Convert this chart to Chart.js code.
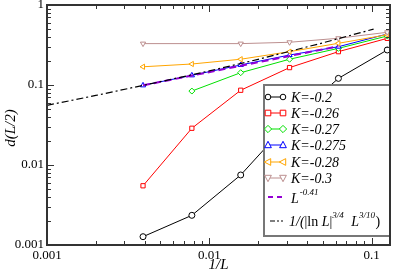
<!DOCTYPE html>
<html>
<head>
<meta charset="utf-8">
<script src="https://cdn.jsdelivr.net/npm/chart.js@4.4.0/dist/chart.umd.min.js"></script>
<style>
  html, body { margin: 0; padding: 0; background: #fff; }
</style>
</head>
<body>
<canvas id="chart" width="395" height="272"></canvas>
<script>
// x = 1/L
const sizes = [1/256, 1/128, 1/64, 1/32, 1/16, 1/8];
const sizesNo128 = [1/256, 1/64, 1/32, 1/16, 1/8];

// d(L/2) for each K
const k020 = [0.00127, 0.00235, 0.0075, 0.035, 0.121, 0.274];
const k026 = [0.0055, 0.0288, 0.086, 0.165, 0.261, 0.383];
const k027 = [null, 0.084, 0.1425, 0.21, 0.287, 0.41];
const k0275 = [0.099, 0.132, 0.178, 0.237, 0.301, 0.434];
const k028 = [0.169, 0.183, 0.21, 0.261, 0.332, 0.425];
const k030 = [0.329, 0.329, 0.342, 0.384, 0.456];

// power law guide L^-0.41
const powX = [1/256, 1/16];
const powY = [0.099, 0.305];

// 1/(|ln L|^{3/4} L^{3/10})
const logX = [0.001, 0.002, 0.005, 0.01, 0.02, 0.05, 0.103];
const logY = [0.0557, 0.074, 0.110, 0.150, 0.209, 0.336, 0.50];

const decadeLabels = { "-3": "0.001", "-2": "0.01", "-1": "0.1", "0": "1" };

const SERIF = "'Liberation Serif', 'DejaVu Serif', serif";

function pts(xs, ys) {
  return xs.map((x, i) => ({ x, y: ys[i] })).filter(p => p.y != null);
}

function series(label, xs, ys, color, style, rot, order) {
  return {
    label,
    data: pts(xs, ys),
    borderColor: color,
    backgroundColor: "#fff",
    borderWidth: 1,
    pointStyle: style,
    rotation: rot,
    pointRadius: 3,
    pointBorderWidth: 1,
    pointBackgroundColor: "#fff",
    pointBorderColor: color,
    tension: 0,
    order
  };
}

const datasets = [
  {
    label: "dashdot",
    data: pts(logX, logY),
    borderColor: "#000",
    borderWidth: 1.2,
    borderDash: [7, 3, 2, 3],
    pointRadius: 0,
    order: 0
  },
  {
    label: "pow",
    data: pts(powX, powY),
    borderColor: "#9400d3",
    borderWidth: 2,
    borderDash: [7, 4],
    pointRadius: 0,
    order: 1
  },
  series("K=-0.2", sizes, k020, "#000000", "circle", 0, 8),
  series("K=-0.26", sizes, k026, "#ff0000", "rect", 0, 7),
  series("K=-0.27", sizes, k027, "#00e000", "rectRot", 0, 6),
  series("K=-0.275", sizes, k0275, "#0000ff", "triangle", 0, 5),
  series("K=-0.28", sizes, k028, "#ffa500", "triangle", -90, 4),
  series("K=-0.3", sizesNo128, k030, "#bc8f8f", "triangle", 180, 3)
];

// legend rows: [label, color, pointStyle, rotation, kind]
const legendRows = [
  ["K=-0.2", "#000000", "circle", 0, "mark"],
  ["K=-0.26", "#ff0000", "rect", 0, "mark"],
  ["K=-0.27", "#00e000", "rectRot", 0, "mark"],
  ["K=-0.275", "#0000ff", "triangle", 0, "mark"],
  ["K=-0.28", "#ffa500", "triangle", -90, "mark"],
  ["K=-0.3", "#bc8f8f", "triangle", 180, "mark"],
  ["L", "#9400d3", null, 0, "pow"],
  ["1/(", "#000000", null, 0, "dashdot"]
];
const legendY = [97, 113, 129, 145, 162, 178, 197, 221];

function drawMarker(ctx, style, rot, x, y, r, color) {
  ctx.save();
  ctx.translate(x, y);
  ctx.rotate(rot * Math.PI / 180);
  ctx.beginPath();
  if (style === "circle") {
    ctx.arc(0, 0, r, 0, Math.PI * 2);
  } else if (style === "rect") {
    ctx.rect(-r, -r, 2 * r, 2 * r);
  } else if (style === "rectRot") {
    const d = r * 1.3;
    ctx.moveTo(0, -d); ctx.lineTo(d, 0); ctx.lineTo(0, d); ctx.lineTo(-d, 0); ctx.closePath();
  } else {
    const h = r * 1.2;
    ctx.moveTo(0, -h * 1.1); ctx.lineTo(h, h * 0.8); ctx.lineTo(-h, h * 0.8); ctx.closePath();
  }
  ctx.fillStyle = "#fff";
  ctx.fill();
  ctx.lineWidth = 1;
  ctx.strokeStyle = color;
  ctx.stroke();
  ctx.restore();
}

// frame, inward ticks, titles and legend box
const framePlugin = {
  id: "frame",
  afterDraw(chart) {
    const ctx = chart.ctx;
    const a = chart.chartArea;
    const xs = chart.scales.x;
    const ys = chart.scales.y;
    ctx.save();

    // ticks on all four sides
    ctx.strokeStyle = "#333";
    ctx.lineWidth = 1;
    for (let e = -3; e <= -1; e++) {
      for (let m = 1; m <= 9; m++) {
        const v = m * Math.pow(10, e);
        if (v > xs.max * 1.0001) continue;
        const px = Math.round(xs.getPixelForValue(v)) + 0.5;
        const len = m === 1 ? 7 : 4;
        ctx.beginPath();
        ctx.moveTo(px, a.bottom); ctx.lineTo(px, a.bottom - len);
        ctx.moveTo(px, a.top); ctx.lineTo(px, a.top + len);
        ctx.stroke();
      }
    }
    for (let e = -3; e <= 0; e++) {
      for (let m = 1; m <= 9; m++) {
        const v = m * Math.pow(10, e);
        if (v > ys.max * 1.0001) continue;
        const py = Math.round(ys.getPixelForValue(v)) + 0.5;
        const len = m === 1 ? 7 : 4;
        ctx.beginPath();
        ctx.moveTo(a.left, py); ctx.lineTo(a.left + len, py);
        ctx.moveTo(a.right, py); ctx.lineTo(a.right - len, py);
        ctx.stroke();
      }
    }

    // legend box
    const bx = 264, by = 85, bw = 126, bh = 151;
    ctx.fillStyle = "#fff";
    ctx.fillRect(bx, by, bw, bh);
    ctx.strokeStyle = "#777";
    ctx.lineWidth = 2;
    ctx.strokeRect(bx, by, bw, bh);

    ctx.textBaseline = "alphabetic";
    legendRows.forEach((row, i) => {
      const [label, color, style, rot, kind] = row;
      const y = legendY[i];
      const tx = 291;
      if (kind === "mark") {
        ctx.strokeStyle = color;
        ctx.lineWidth = 1;
        ctx.setLineDash([]);
        ctx.beginPath();
        ctx.moveTo(268, y); ctx.lineTo(283, y);
        ctx.stroke();
        drawMarker(ctx, style, rot, 268, y, 2.8, color);
        drawMarker(ctx, style, rot, 283, y, 2.8, color);
        ctx.fillStyle = "#000";
        ctx.font = "italic 14px " + SERIF;
        ctx.fillText(label, tx, y + 5);
      } else if (kind === "pow") {
        ctx.strokeStyle = color;
        ctx.lineWidth = 2;
        ctx.setLineDash([5, 4]);
        ctx.beginPath();
        ctx.moveTo(268, y); ctx.lineTo(283, y);
        ctx.stroke();
        ctx.setLineDash([]);
        ctx.fillStyle = "#000";
        ctx.font = "italic 14px " + SERIF;
        ctx.fillText("L", tx, y + 6);
        const w = ctx.measureText("L").width;
        ctx.font = "italic 9px " + SERIF;
        ctx.fillText("-0.41", tx + w + 1, y - 2);
      } else {
        ctx.strokeStyle = color;
        ctx.lineWidth = 1.2;
        ctx.setLineDash([5, 2, 2, 2]);
        ctx.beginPath();
        ctx.moveTo(270, y); ctx.lineTo(283, y);
        ctx.stroke();
        ctx.setLineDash([]);
        ctx.fillStyle = "#000";
        const parts = [
          ["1/(", "italic 14px", 0],
          ["|ln ", "14px", 0],
          ["L", "italic 14px", 0],
          ["|", "14px", 0],
          ["3/4", "italic 9px", -8],
          ["  L", "italic 14px", 0],
          ["3/10", "italic 9px", -8],
          [")", "14px", 0]
        ];
        let x = tx - 2;
        parts.forEach(([t, f, dy]) => {
          ctx.font = f + " " + SERIF;
          ctx.fillText(t, x, y + 5 + dy);
          x += ctx.measureText(t).width + (dy ? 0.5 : 0);
        });
      }
    });

    // frame
    ctx.strokeStyle = "#333";
    ctx.lineWidth = 2;
    ctx.strokeRect(a.left, a.top, a.right - a.left, a.bottom - a.top);

    // axis titles
    ctx.fillStyle = "#000";
    ctx.font = "italic 15px " + SERIF;
    ctx.textAlign = "center";
    ctx.textBaseline = "middle";
    ctx.fillText("1/L", (a.left + a.right) / 2, 265);
    ctx.translate(11, 128);
    ctx.rotate(-Math.PI / 2);
    ctx.fillText("d(L/2)", 0, 0);
    ctx.restore();
  }
};

function decadeTick(v) {
  const l = Math.log10(v);
  const r = Math.round(l);
  if (Math.abs(l - r) < 1e-6 && decadeLabels[String(r)] !== undefined) return decadeLabels[String(r)];
  return "";
}

new Chart(document.getElementById("chart"), {
  type: "line",
  data: { datasets },
  options: {
    responsive: false,
    animation: false,
    layout: { padding: { top: 5, right: 3, left: 0, bottom: 0 } },
    plugins: {
      legend: { display: false },
      tooltip: { enabled: false }
    },
    scales: {
      x: {
        type: "logarithmic",
        min: 0.001,
        max: 0.13,
        grid: { display: false, drawTicks: false },
        border: { display: false },
        ticks: {
          autoSkip: false,
          maxRotation: 0,
          padding: 3,
          color: "#000",
          font: { family: SERIF, size: 13 },
          callback: decadeTick
        },
        afterFit(scale) {
          scale.height = 27;
          scale.paddingLeft = 0;
          scale.paddingRight = 0;
        }
      },
      y: {
        type: "logarithmic",
        min: 0.001,
        max: 1,
        grid: { display: false, drawTicks: false },
        border: { display: false },
        ticks: {
          autoSkip: false,
          padding: 3,
          color: "#000",
          font: { family: SERIF, size: 13 },
          callback: decadeTick
        },
        afterFit(scale) {
          scale.width = 47;
          scale.paddingTop = 0;
          scale.paddingBottom = 0;
        }
      }
    }
  },
  plugins: [framePlugin]
});
</script>
</body>
</html>
